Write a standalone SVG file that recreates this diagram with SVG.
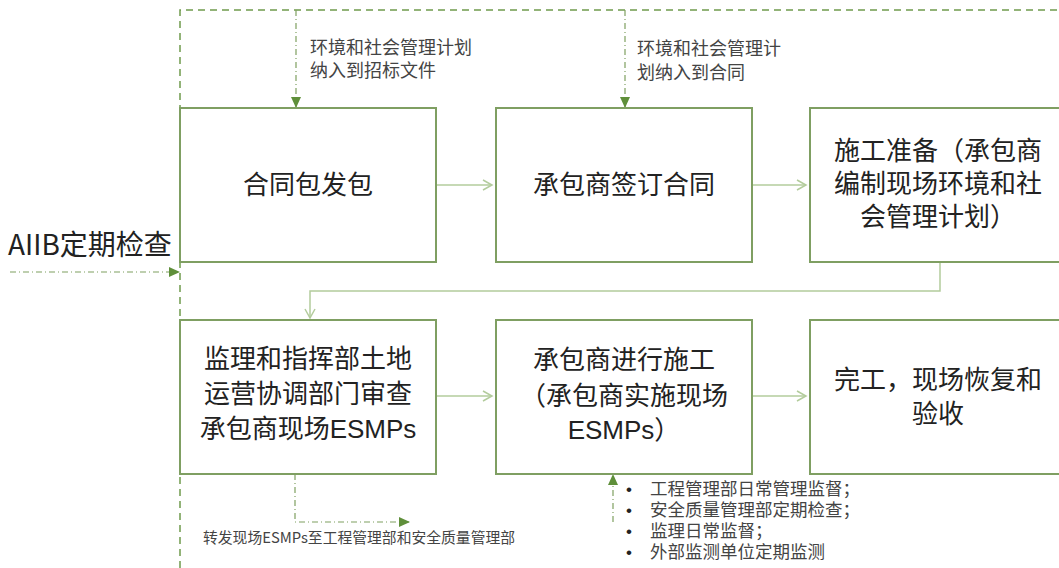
<svg xmlns="http://www.w3.org/2000/svg" width="1059" height="568" viewBox="0 0 1059 568">
<style>
.box{fill:#fff;stroke:#7f9f62;stroke-width:2}
.bt{font-family:"Liberation Sans","Noto Sans CJK SC",sans-serif;font-size:26px;fill:#222;text-anchor:middle}
.lbl{font-family:"Liberation Sans","Noto Sans CJK SC",sans-serif;font-size:18px;fill:#444}
.flow{fill:none;stroke:#b3cc9c;stroke-width:1.5}
.outer{fill:none;stroke:#6f9a4c;stroke-width:1.5;stroke-dasharray:7 5}
.dd{fill:none;stroke:#7fa060;stroke-width:1.2;stroke-dasharray:6 3 1 3}
.bul{font-family:"Liberation Sans",sans-serif;font-size:17px;fill:#222}
.li{font-family:"Liberation Sans","Noto Sans CJK SC",sans-serif;font-size:17.5px;fill:#444}
</style>
<defs>
<marker id="open" markerWidth="12" markerHeight="12" refX="10" refY="6" orient="auto" markerUnits="userSpaceOnUse">
<path d="M1,1 L10,6 L1,11" fill="none" stroke="#b3cc9c" stroke-width="1.5"/>
</marker>
<marker id="tri" markerWidth="12" markerHeight="12" refX="10" refY="6" orient="auto" markerUnits="userSpaceOnUse">
<path d="M0,1 L11,6 L0,11 Z" fill="#5f8f3a"/>
</marker>
</defs>
<g id="connectors">
<path class="outer" d="M180,568 L180,10 L1059,10"/>
<path class="dd" d="M296,10 L296,107" marker-end="url(#tri)"/>
<path class="dd" d="M625,10 L625,107" marker-end="url(#tri)"/>
<path class="dd" d="M10,272 L179,272" marker-end="url(#tri)"/>
<path class="dd" d="M295,474 L295,522 L409,522" marker-end="url(#tri)"/>
<path class="dd" d="M613,522 L613,475" marker-end="url(#tri)"/>
<path class="flow" d="M437,185 L492,185" marker-end="url(#open)"/>
<path class="flow" d="M753,185 L806,185" marker-end="url(#open)"/>
<path class="flow" d="M940,263 L940,291 L310,291 L310,318" marker-end="url(#open)"/>
<path class="flow" d="M437,396 L492,396" marker-end="url(#open)"/>
<path class="flow" d="M753,396 L806,396" marker-end="url(#open)"/>
</g>
<g id="n1"><rect class="box" x="180" y="108" width="256" height="154"/><text class="bt" x="308" y="194">合同包发包</text></g>
<g id="n2"><rect class="box" x="496" y="108" width="256" height="154"/><text class="bt" x="624" y="194">承包商签订合同</text></g>
<g id="n3"><rect class="box" x="810" y="108" width="256" height="154"/><text class="bt" x="938" y="160">施工准备（承包商</text><text class="bt" x="938" y="193">编制现场环境和社</text><text class="bt" x="938" y="226">会管理计划）</text></g>
<g id="n4"><rect class="box" x="180" y="320" width="256" height="154"/><text class="bt" x="308" y="368">监理和指挥部土地</text><text class="bt" x="308" y="403">运营协调部门审查</text><text class="bt" x="308" y="438">承包商现场ESMPs</text></g>
<g id="n5"><rect class="box" x="496" y="320" width="256" height="154"/><text class="bt" x="624" y="369">承包商进行施工</text><text class="bt" x="624" y="405">（承包商实施现场</text><text class="bt" x="624" y="439">ESMPs）</text></g>
<g id="n6"><rect class="box" x="810" y="320" width="256" height="154"/><text class="bt" x="938" y="389">完工，现场恢复和</text><text class="bt" x="938" y="423">验收</text></g>
<g id="labels">
<text class="lbl" x="310" y="54">环境和社会管理计划</text>
<text class="lbl" x="310" y="77">纳入到招标文件</text>
<text class="lbl" x="637" y="55">环境和社会管理计</text>
<text class="lbl" x="637" y="79">划纳入到合同</text>
<text x="8" y="255" style="font-family:'Noto Sans CJK SC','Noto Sans',sans-serif;font-size:28px;fill:#222">AIIB定期检查</text>
<text x="203" y="543" style="font-family:'Noto Sans CJK SC','Noto Sans',sans-serif;font-size:14.8px;fill:#444">转发现场ESMPs至工程管理部和安全质量管理部</text>
<text class="bul" x="626" y="495">•<tspan x="626" dy="21">•</tspan><tspan x="626" dy="21">•</tspan><tspan x="626" dy="21">•</tspan></text>
<text class="li" x="650" y="495">工程管理部日常管理监督；</text>
<text class="li" x="650" y="516">安全质量管理部定期检查；</text>
<text class="li" x="650" y="537">监理日常监督；</text>
<text class="li" x="650" y="558">外部监测单位定期监测</text>
</g>
</svg>
